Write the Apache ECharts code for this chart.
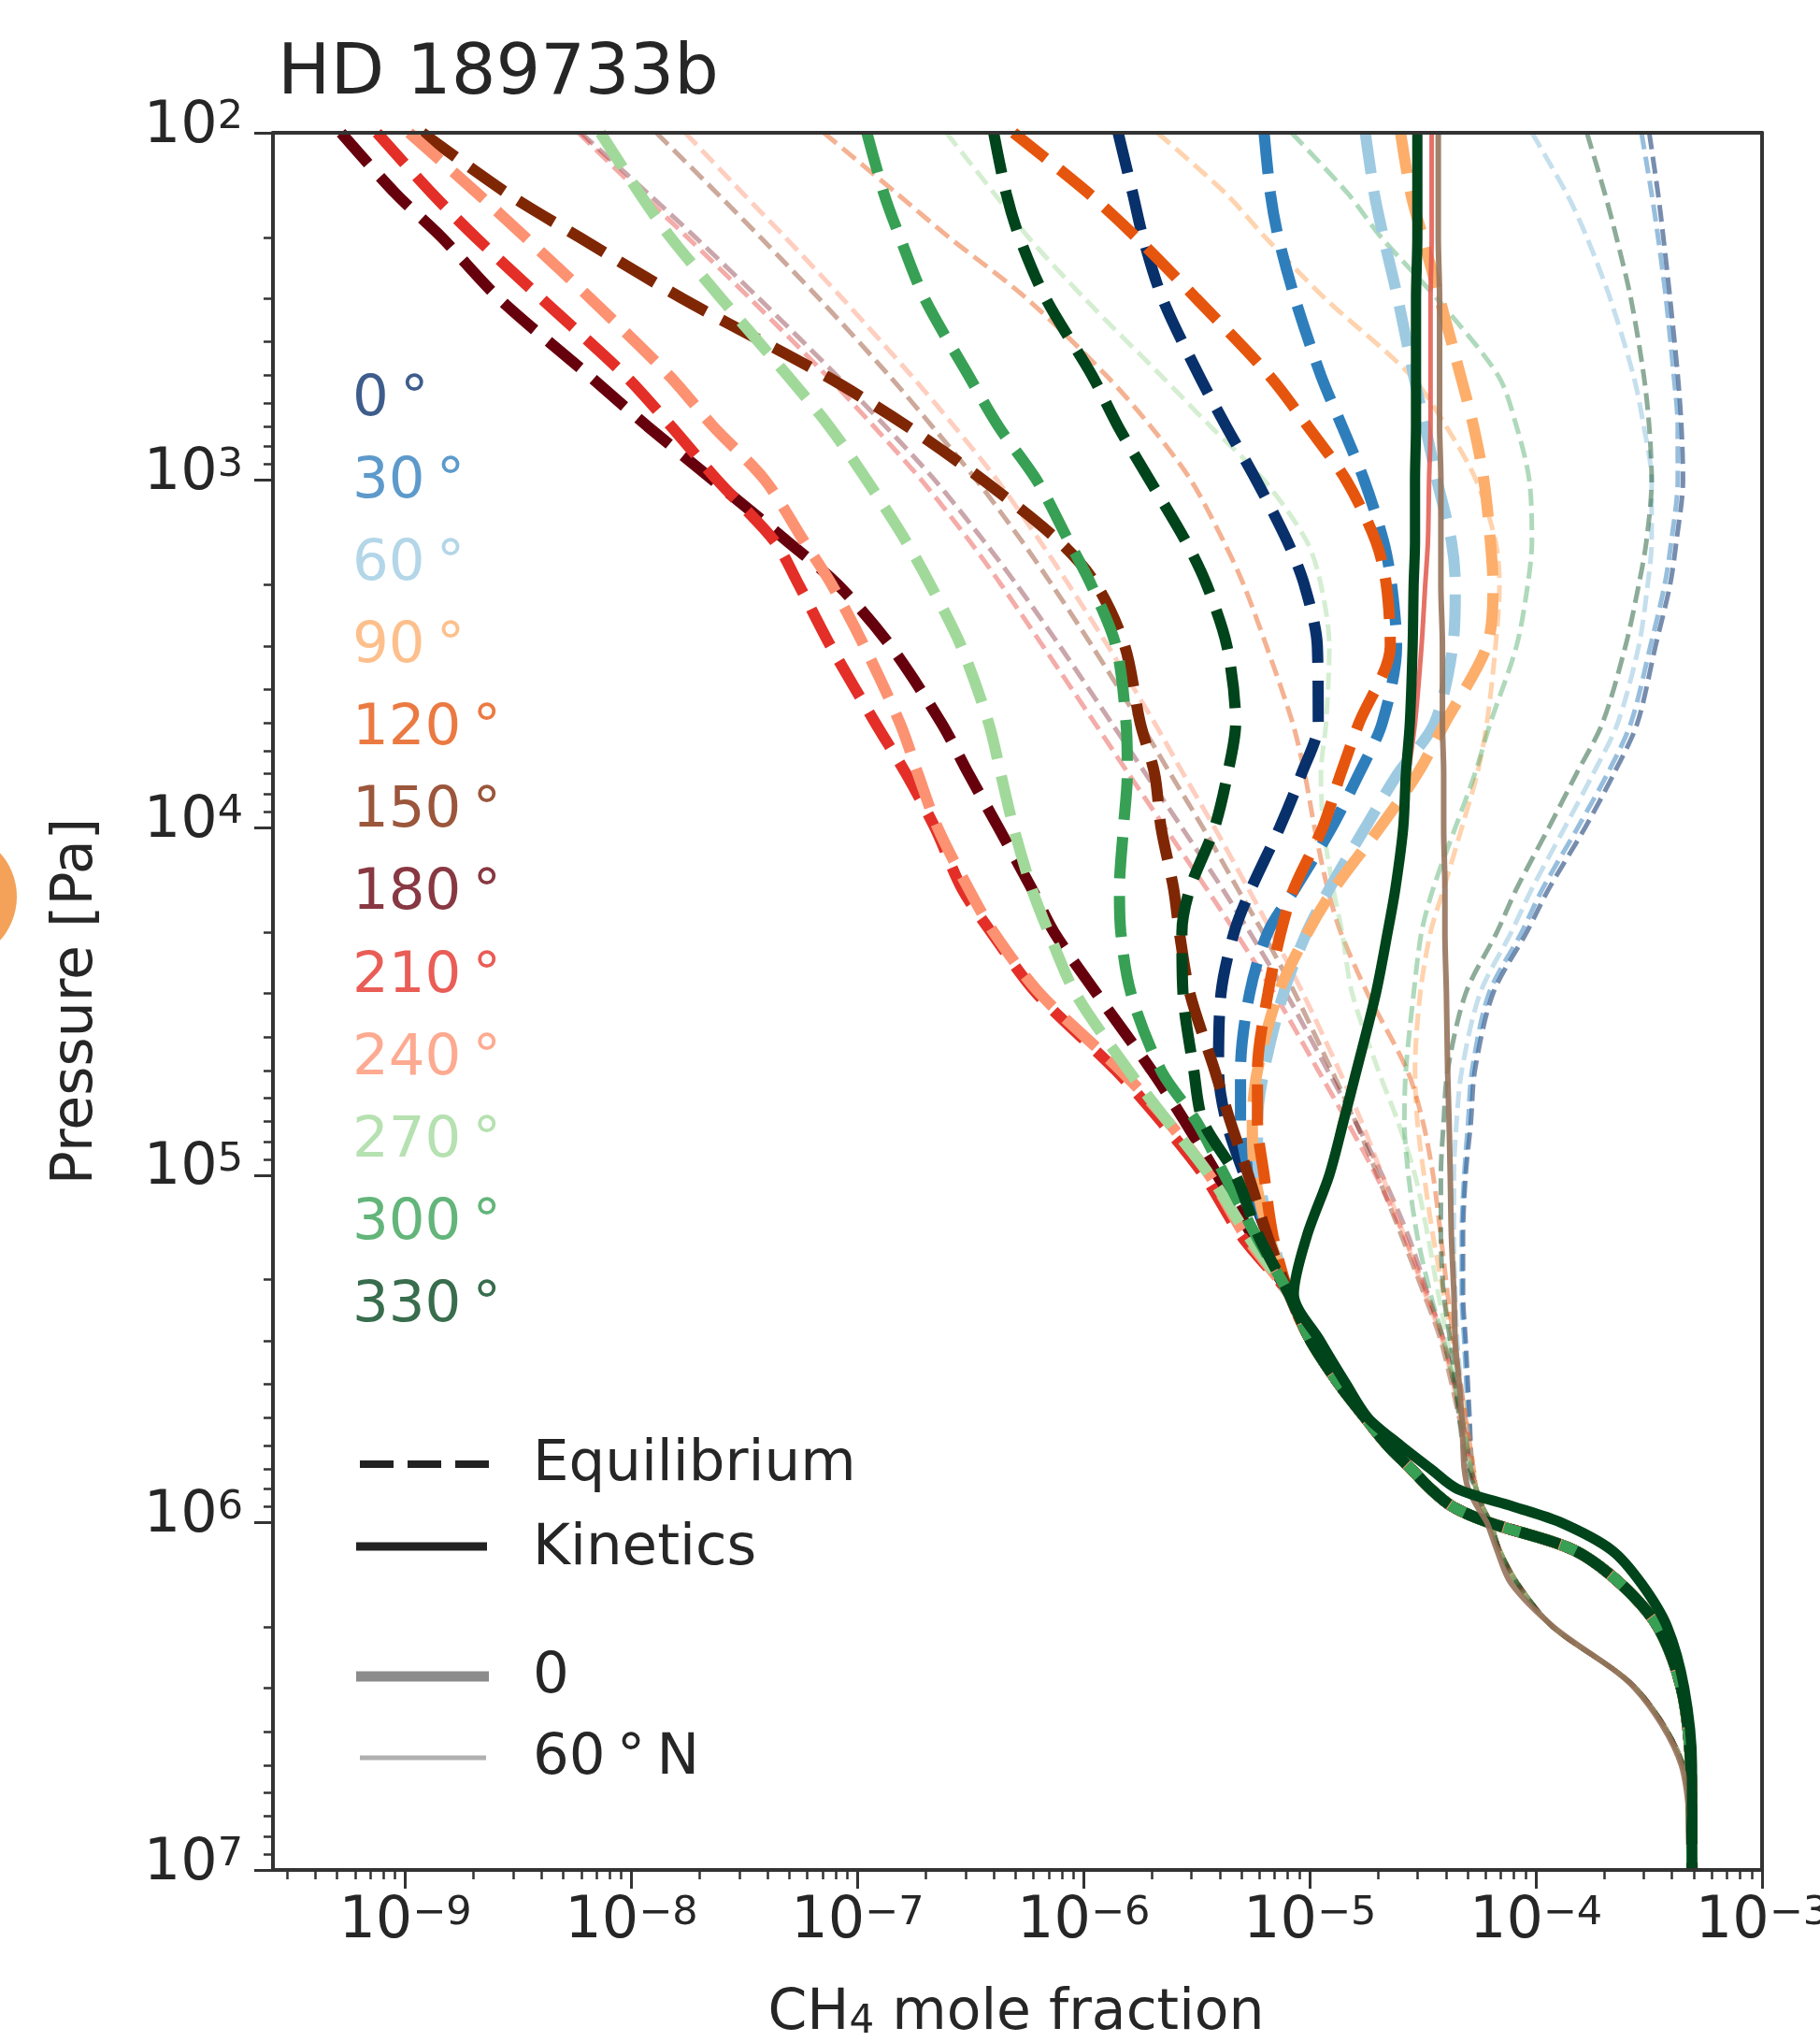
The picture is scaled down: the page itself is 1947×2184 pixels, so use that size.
<!DOCTYPE html>
<html><head><meta charset="utf-8">
<script src="https://cdn.jsdelivr.net/npm/echarts@6/dist/echarts.min.js"></script>
<style>html,body{margin:0;padding:0;background:#fff;}#c{width:1947px;height:2184px;}</style>
</head><body><div id="c"></div>
<script>
// ---------------- data ----------------
const LONGITUDES = ['0°','30°','60°','90°','120°','150°','180°','210°','240°','270°','300°','330°'];
const X_MIN = 2.6e-10, X_MAX = 1e-3;
const Y_MIN = 1e2, Y_MAX = 1e7;
const X_MAJOR = [1e-9, 1e-8, 1e-7, 1e-6, 1e-5, 1e-4, 1e-3];
const Y_MAJOR = [1e2, 1e3, 1e4, 1e5, 1e6, 1e7];

// pressure levels [Pa]
const P_UP = [1e2,1.5e2,2e2,3e2,5e2,7e2,1e3,1.5e3,2e3,3e3,5e3,7e3,1e4,1.5e4,2e4,3e4,5e4,7e4,1e5,1.5e5,2.2e5];
const P_DEEP = [2.2e5,3e5,4e5,5e5,6e5,7e5,8e5,9e5,1e6,1.2e6,1.5e6,2e6,3e6,5e6,1e7];
const P_THIN = [1e2,1.5e2,2e2,3e2,5e2,7e2,1e3,1.5e3,2e3,3e3,5e3,7e3,1e4,1.5e4,2e4,3e4,5e4,7e4,1e5,1.5e5,2.2e5,3e5,5e5,7e5];
const P_THIN_DEEP = [8e5,9e5,1e6,1.2e6,1.5e6,2e6,3e6,5e6,1e7];

// Equilibrium, equator (thick dashed), upper atmosphere, CH4 mole fraction at P_UP
const EQ_EQ_0   = [1.42e-6,1.65e-6,1.83e-6,2.23e-6,3.24e-6,4.27e-6,5.8e-6,7.96e-6,9.46e-6,1.08e-5,1.09e-5,9.2e-6,7.36e-6,5.5e-6,4.63e-6,4.05e-6,3.95e-6,4.27e-6,5.14e-6,6.53e-6,8.1e-6];
const EQ_EQ_30  = [6.28e-6,6.7e-6,7.26e-6,8.6e-6,1.12e-5,1.39e-5,1.74e-5,2.12e-5,2.3e-5,2.42e-5,2.09e-5,1.65e-5,1.25e-5,8.6e-6,6.53e-6,5.42e-6,4.94e-6,4.94e-6,5.42e-6,6.53e-6,8.1e-6];
const EQ_EQ_60  = [1.76e-5,1.93e-5,2.12e-5,2.45e-5,2.88e-5,3.24e-5,3.65e-5,4.23e-5,4.4e-5,4.29e-5,3.56e-5,2.45e-5,1.76e-5,1.22e-5,9.7e-6,7.65e-6,6.28e-6,5.87e-6,5.95e-6,6.79e-6,8.1e-6];
const EQ_EQ_90  = [2.52e-5,2.8e-5,3.16e-5,3.75e-5,4.64e-5,5.3e-5,5.89e-5,6.29e-5,6.46e-5,6.07e-5,3.96e-5,2.99e-5,2.04e-5,1.28e-5,9.8e-6,7.26e-6,5.87e-6,5.57e-6,5.72e-6,6.6e-6,8.1e-6];
const EQ_EQ_120 = [4.9e-7,1.06e-6,1.71e-6,3.15e-6,6.62e-6,9.8e-6,1.45e-5,1.96e-5,2.18e-5,2.27e-5,1.65e-5,1.37e-5,1.14e-5,8.5e-6,7.45e-6,6.53e-6,5.87e-6,5.87e-6,6.28e-6,6.88e-6,8.1e-6];
const EQ_EQ_150 = [1.19e-9,2.85e-9,5.9e-9,1.68e-8,7.2e-8,1.66e-7,3.6e-7,7.8e-7,1.14e-6,1.52e-6,1.78e-6,2.06e-6,2.2e-6,2.5e-6,2.65e-6,2.95e-6,3.8e-6,4.45e-6,5.35e-6,6.5e-6,8.1e-6];
const EQ_EQ_180 = [5.2e-10,9.1e-10,1.45e-9,2.6e-9,6.5e-9,1.18e-8,2.3e-8,4.9e-8,8.2e-8,1.4e-7,2.35e-7,3.1e-7,4.2e-7,5.9e-7,7.4e-7,1.14e-6,2.0e-6,2.8e-6,3.9e-6,5.6e-6,8.1e-6];
const EQ_EQ_210 = [7.5e-10,1.32e-9,2.05e-9,4.0e-9,9.4e-9,1.5e-8,2.4e-8,4.3e-8,5.5e-8,7.6e-8,1.2e-7,1.64e-7,2.2e-7,2.9e-7,3.9e-7,6.2e-7,1.39e-6,2.2e-6,3.4e-6,5.0e-6,8.1e-6];
const EQ_EQ_240 = [1.04e-9,2.1e-9,3.4e-9,6.6e-9,1.47e-8,2.3e-8,3.9e-8,5.8e-8,7.7e-8,1.07e-7,1.54e-7,1.85e-7,2.26e-7,3.1e-7,4.0e-7,6.4e-7,1.46e-6,2.35e-6,3.6e-6,5.2e-6,8.1e-6];
const EQ_EQ_270 = [7.3e-9,1.09e-8,1.49e-8,2.5e-8,4.9e-8,7.5e-8,1.1e-7,1.64e-7,2.1e-7,2.87e-7,3.8e-7,4.3e-7,4.9e-7,5.9e-7,7.0e-7,9.2e-7,1.58e-6,2.35e-6,3.6e-6,5.35e-6,8.1e-6];
const EQ_EQ_300 = [1.1e-7,1.31e-7,1.54e-7,1.98e-7,3.1e-7,4.2e-7,6.2e-7,8.6e-7,1.08e-6,1.39e-6,1.54e-6,1.56e-6,1.5e-6,1.44e-6,1.46e-6,1.62e-6,2.2e-6,3.15e-6,4.2e-6,5.8e-6,8.1e-6];
const EQ_EQ_330 = [4.0e-7,4.55e-7,5.2e-7,6.8e-7,1.09e-6,1.42e-6,1.96e-6,2.83e-6,3.5e-6,4.3e-6,4.7e-6,4.33e-6,3.79e-6,2.95e-6,2.72e-6,2.75e-6,3.07e-6,3.37e-6,4.7e-6,5.95e-6,8.1e-6];
// Equilibrium, equator: common deep profile at P_DEEP
const EQ_EQ_DEEP = [8.1e-6,1.01e-5,1.35e-5,1.76e-5,2.21e-5,2.8e-5,3.42e-5,4.28e-5,6.2e-5,1.47e-4,2.37e-4,3.47e-4,4.4e-4,4.84e-4,4.9e-4];

// Equilibrium, 60°N (thin dashed) at P_THIN
const EQ_N60_0   = [3.17e-4,3.47e-4,3.66e-4,3.92e-4,4.24e-4,4.4e-4,4.47e-4,4.18e-4,3.92e-4,3.38e-4,2.81e-4,2.21e-4,1.65e-4,1.14e-4,9.1e-5,6.46e-5,5.37e-5,5.16e-5,4.89e-5,4.76e-5,4.76e-5,4.89e-5,5.09e-5,5.22e-5];
const EQ_N60_30  = [2.93e-4,3.25e-4,3.47e-4,3.76e-4,4.07e-4,4.24e-4,4.24e-4,3.97e-4,3.71e-4,3.21e-4,2.63e-4,2.07e-4,1.53e-4,1.07e-4,8.65e-5,6.2e-5,5.22e-5,5.02e-5,4.82e-5,4.7e-5,4.7e-5,4.82e-5,5.02e-5,5.22e-5];
const EQ_N60_60  = [9.6e-5,1.37e-4,1.68e-4,2.13e-4,2.7e-4,3.0e-4,3.25e-4,3.25e-4,3.12e-4,2.85e-4,2.3e-4,1.79e-4,1.34e-4,9.6e-5,7.78e-5,5.66e-5,4.7e-5,4.46e-5,4.34e-5,4.34e-5,4.4e-5,4.49e-5,4.82e-5,5.09e-5];
const EQ_N60_90  = [2.12e-6,4.27e-6,6.36e-6,1.17e-5,2.8e-5,4.01e-5,5.44e-5,6.63e-5,6.9e-5,6.63e-5,6.07e-5,5.5e-5,4.7e-5,3.91e-5,3.42e-5,3.08e-5,2.92e-5,2.99e-5,3.2e-5,3.51e-5,3.91e-5,4.28e-5,4.89e-5,5.3e-5];
const EQ_N60_120 = [7.1e-8,1.5e-7,2.54e-7,5.6e-7,1.26e-6,1.98e-6,2.98e-6,4.16e-6,5.1e-6,6.43e-6,8.4e-6,9.5e-6,1.05e-5,1.2e-5,1.37e-5,1.8e-5,2.7e-5,3.16e-5,3.51e-5,3.8e-5,4.07e-5,4.34e-5,4.89e-5,5.3e-5];
const EQ_N60_150 = [1.29e-8,2.41e-8,3.72e-8,6.76e-8,1.38e-7,2.14e-7,3.36e-7,5.34e-7,7.24e-7,1.09e-6,1.78e-6,2.42e-6,3.37e-6,4.8e-6,6.19e-6,8.6e-6,1.25e-5,1.59e-5,1.99e-5,2.55e-5,3.2e-5,3.8e-5,4.58e-5,5.09e-5];
const EQ_N60_180 = [5.98e-9,1.19e-8,1.92e-8,3.67e-8,8.1e-8,1.33e-7,2.2e-7,3.63e-7,5.06e-7,7.84e-7,1.33e-6,1.88e-6,2.72e-6,4.11e-6,5.42e-6,7.86e-6,1.2e-5,1.59e-5,2.09e-5,2.73e-5,3.33e-5,3.91e-5,4.7e-5,5.16e-5];
const EQ_N60_210 = [5.83e-9,1.11e-8,1.77e-8,3.35e-8,7.3e-8,1.18e-7,1.92e-7,3.14e-7,4.32e-7,6.6e-7,1.12e-6,1.58e-6,2.29e-6,3.5e-6,4.69e-6,6.97e-6,1.09e-5,1.46e-5,1.96e-5,2.62e-5,3.29e-5,3.91e-5,4.7e-5,5.16e-5];
const EQ_N60_240 = [1.73e-8,3.13e-8,4.79e-8,8.58e-8,1.73e-7,2.68e-7,4.15e-7,6.42e-7,8.6e-7,1.28e-6,2.06e-6,2.76e-6,3.79e-6,5.35e-6,6.79e-6,9.33e-6,1.35e-5,1.69e-5,2.09e-5,2.62e-5,3.24e-5,3.86e-5,4.64e-5,5.16e-5];
const EQ_N60_270 = [2.47e-7,4.04e-7,5.7e-7,1.01e-6,2.2e-6,3.64e-6,6.28e-6,9.7e-6,1.12e-5,1.22e-5,1.18e-5,1.12e-5,1.15e-5,1.27e-5,1.39e-5,1.54e-5,2.01e-5,2.45e-5,2.92e-5,3.33e-5,3.7e-5,4.07e-5,4.7e-5,5.16e-5];
const EQ_N60_300 = [8.3e-6,1.48e-5,2.07e-5,3.65e-5,6.81e-5,8.21e-5,9.35e-5,9.6e-5,9.2e-5,8.21e-5,6.29e-5,5.37e-5,4.4e-5,3.51e-5,3.12e-5,2.88e-5,2.66e-5,2.62e-5,2.73e-5,2.99e-5,3.42e-5,3.91e-5,4.7e-5,5.16e-5];
const EQ_N60_330 = [1.68e-4,2.02e-4,2.27e-4,2.63e-4,3.0e-4,3.17e-4,3.25e-4,3.08e-4,2.85e-4,2.49e-4,1.97e-4,1.51e-4,1.14e-4,8.21e-5,6.72e-5,4.89e-5,4.07e-5,3.91e-5,3.8e-5,3.8e-5,3.91e-5,4.18e-5,4.58e-5,4.95e-5];
// Equilibrium, 60°N: common deep profile at P_THIN_DEEP
const EQ_N60_DEEP = [5.44e-5,5.8e-5,6.29e-5,6.9e-5,8.3e-5,1.19e-4,2.77e-4,4.47e-4,4.9e-4];

// Kinetics
const KIN_EQ_UP = [2.99e-5,2.99e-5,2.99e-5,2.95e-5,2.95e-5,2.95e-5,2.92e-5,2.92e-5,2.88e-5,2.85e-5,2.77e-5,2.66e-5,2.59e-5,2.39e-5,2.21e-5,1.96e-5,1.61e-5,1.41e-5,1.22e-5,9.7e-6,8.5e-6];
const KIN_EQ_DEEP = [8.6e-6,1.11e-5,1.45e-5,1.81e-5,2.52e-5,3.42e-5,4.49e-5,7.97e-5,1.29e-4,2.16e-4,2.93e-4,3.81e-4,4.53e-4,4.9e-4,4.9e-4];
const KIN_EQ_210_UP = [3.46e-5,3.46e-5,3.46e-5,3.42e-5,3.42e-5,3.42e-5,3.37e-5,3.33e-5,3.24e-5,3.12e-5,2.92e-5,2.73e-5,2.62e-5,2.42e-5,2.24e-5,1.99e-5,1.63e-5,1.37e-5,1.23e-5,9.8e-6,8.6e-6];
const KIN_N60_UP = [3.7e-5,3.7e-5,3.7e-5,3.75e-5,3.75e-5,3.75e-5,3.8e-5,3.8e-5,3.8e-5,3.86e-5,3.86e-5,3.91e-5,3.91e-5,3.96e-5,3.96e-5,4.02e-5,4.07e-5,4.13e-5,4.18e-5,4.23e-5,4.34e-5];
const KIN_N60_DEEP = [4.34e-5,4.4e-5,4.58e-5,4.7e-5,4.76e-5,4.82e-5,5.02e-5,5.5e-5,6.07e-5,6.72e-5,7.78e-5,1.2e-4,2.74e-4,4.4e-4,4.9e-4];

// ---------------- styles ----------------
const COLORS = ['#08306b','#2f7ebc','#9ecae1','#fdae6b','#e6550d','#7f2704','#67000d','#e32f27','#fc9272','#a1d99b','#37a055','#00441b'];
const THIN_OPACITY = [0.55,0.5,0.6,0.55,0.45,0.4,0.35,0.4,0.45,0.45,0.4,0.45];
const FONT = 'DejaVu Sans';
const TXT = '#262626';

const eqEquator = [EQ_EQ_0,EQ_EQ_30,EQ_EQ_60,EQ_EQ_90,EQ_EQ_120,EQ_EQ_150,EQ_EQ_180,EQ_EQ_210,EQ_EQ_240,EQ_EQ_270,EQ_EQ_300,EQ_EQ_330];
const eqN60 = [EQ_N60_0,EQ_N60_30,EQ_N60_60,EQ_N60_90,EQ_N60_120,EQ_N60_150,EQ_N60_180,EQ_N60_210,EQ_N60_240,EQ_N60_270,EQ_N60_300,EQ_N60_330];

function pairs(xs, ps) { return xs.map((x, i) => [x, ps[i]]); }

const series = [];
eqN60.forEach((xs, i) => {
  series.push({
    name: LONGITUDES[i] + ' 60°N eq', type: 'line', smooth: 0.3, symbol: 'none', showSymbol: false, silent: true,
    data: pairs(xs, P_THIN).concat(pairs(EQ_N60_DEEP, P_THIN_DEEP)),
    lineStyle: { color: COLORS[i], width: 5, type: [18, 8], cap: 'butt', opacity: THIN_OPACITY[i] }, z: 2
  });
});
eqEquator.forEach((xs, i) => {
  series.push({
    name: LONGITUDES[i] + ' eq', type: 'line', smooth: 0.3, symbol: 'none', showSymbol: false, silent: true,
    data: pairs(xs, P_UP).concat(pairs(EQ_EQ_DEEP.slice(1), P_DEEP.slice(1))),
    lineStyle: { color: COLORS[i], width: 12, type: [44, 19], cap: 'butt' }, z: 3
  });
});
series.push({
  name: 'kin 60N', type: 'line', smooth: 0.3, symbol: 'none', showSymbol: false, silent: true,
  data: pairs(KIN_N60_UP, P_UP).concat(pairs(KIN_N60_DEEP.slice(1), P_DEEP.slice(1))),
  lineStyle: { color: '#96735b', width: 6, opacity: 0.9 }, z: 4
});
series.push({
  name: 'kin 210', type: 'line', smooth: 0.3, symbol: 'none', showSymbol: false, silent: true,
  data: pairs(KIN_EQ_210_UP, P_UP).concat(pairs(KIN_EQ_DEEP.slice(1), P_DEEP.slice(1))),
  lineStyle: { color: '#e0584c', width: 5, opacity: 0.85 }, z: 4
});
series.push({
  name: 'kin equator', type: 'line', smooth: 0.3, symbol: 'none', showSymbol: false, silent: true,
  data: pairs(KIN_EQ_UP, P_UP).concat(pairs(KIN_EQ_DEEP.slice(1), P_DEEP.slice(1))),
  lineStyle: { color: '#00441b', width: 11 }, z: 5
});

// minor ticks at 2..9 x 10^n
const X_MINOR = [], Y_MINOR = [];
for (let e = -10; e <= -4; e++) for (let k = 2; k <= 9; k++) { const v = k * Math.pow(10, e); if (v > X_MIN && v < X_MAX) X_MINOR.push(v); }
for (let e = 2; e <= 6; e++) for (let k = 2; k <= 9; k++) Y_MINOR.push(k * Math.pow(10, e));

function supLabel(v) {
  const e = Math.round(Math.log10(v));
  return '{b|10}{s|' + (e < 0 ? '\u2212' + (-e) : e) + '}';
}
const RICH = {
  b: { fontSize: 62, fontFamily: FONT, color: TXT, lineHeight: 62, verticalAlign: 'bottom' },
  s: { fontSize: 43, fontFamily: FONT, color: TXT, lineHeight: 43, verticalAlign: 'top', padding: [0, 0, 32, 0] }
};
const AX_LINE = { show: true, onZero: false, lineStyle: { color: '#333', width: 4 } };
const TICK_STYLE = { color: '#333', width: 3 };

const xAxes = [
  { type: 'log', min: X_MIN, max: X_MAX, position: 'bottom', z: 6, axisLine: AX_LINE,
    axisTick: { show: true, customValues: X_MAJOR, length: 20, lineStyle: TICK_STYLE },
    axisLabel: { show: true, customValues: X_MAJOR, formatter: supLabel, rich: RICH, margin: 25 },
    splitLine: { show: false }, minorTick: { show: false } },
  { type: 'log', min: X_MIN, max: X_MAX, position: 'bottom', z: 6, axisLine: { show: false },
    axisTick: { show: true, customValues: X_MINOR, length: 10, lineStyle: { color: '#333', width: 2.5 } },
    axisLabel: { show: false }, splitLine: { show: false } },
  { type: 'log', min: X_MIN, max: X_MAX, position: 'top', z: 6, axisLine: AX_LINE,
    axisTick: { show: false }, axisLabel: { show: false }, splitLine: { show: false } }
];
const yAxes = [
  { type: 'log', min: Y_MIN, max: Y_MAX, inverse: true, position: 'left', z: 6, axisLine: AX_LINE,
    axisTick: { show: true, customValues: Y_MAJOR, length: 20, lineStyle: TICK_STYLE },
    axisLabel: { show: true, customValues: Y_MAJOR, formatter: supLabel, rich: RICH, margin: 32, padding: [0, 0, 13, 0] },
    splitLine: { show: false } },
  { type: 'log', min: Y_MIN, max: Y_MAX, inverse: true, position: 'left', z: 6, axisLine: { show: false },
    axisTick: { show: true, customValues: Y_MINOR, length: 10, lineStyle: { color: '#333', width: 2.5 } },
    axisLabel: { show: false }, splitLine: { show: false } },
  { type: 'log', min: Y_MIN, max: Y_MAX, inverse: true, position: 'right', z: 6, axisLine: AX_LINE,
    axisTick: { show: false }, axisLabel: { show: false }, splitLine: { show: false } }
];

// graphic texts & legend
const graphic = [];
graphic.push({ type: 'circle', shape: { cx: -52, cy: 959, r: 70 }, style: { fill: '#f4a259' }, silent: true });
graphic.push({ type: 'text', x: 297, y: 81, style: { text: 'HD 189733b', fontSize: 75, fontFamily: FONT, fill: TXT, align: 'left', verticalAlign: 'middle' }, z: 10 });
graphic.push({ type: 'text', x: 82, y: 1071, rotation: Math.PI / 2, style: { text: 'Pressure [Pa]', fontSize: 60, fontFamily: FONT, fill: TXT, align: 'center', verticalAlign: 'middle' }, z: 10 });
graphic.push({ type: 'text', x: 1087, y: 2124, style: {
  text: '{a|CH}{sub|4}{a| mole fraction}', align: 'center', verticalAlign: 'top',
  rich: { a: { fontSize: 60, fontFamily: FONT, fill: TXT, color: TXT, lineHeight: 60, verticalAlign: 'top' },
          sub: { fontSize: 42, fontFamily: FONT, fill: TXT, color: TXT, lineHeight: 42, verticalAlign: 'bottom', padding: [21, 0, 0, 0] } } }, z: 10 });
LONGITUDES.forEach((lab, i) => {
  graphic.push({ type: 'text', x: 377, y: 428 + i * 88.1, style: { text: lab.replace('°', '\u2009°'), fontSize: 61, fontFamily: FONT, fill: COLORS[i], opacity: 0.78, align: 'left', verticalAlign: 'middle' }, z: 10 });
});
graphic.push({ type: 'line', shape: { x1: 385, y1: 1566, x2: 523, y2: 1566 }, style: { stroke: '#222', lineWidth: 8, lineDash: [36, 15] }, z: 10 });
graphic.push({ type: 'text', x: 570, y: 1567, style: { text: 'Equilibrium', fontSize: 61, fontFamily: FONT, fill: TXT, align: 'left', verticalAlign: 'middle' }, z: 10 });
graphic.push({ type: 'line', shape: { x1: 381, y1: 1654, x2: 521, y2: 1654 }, style: { stroke: '#222', lineWidth: 9 }, z: 10 });
graphic.push({ type: 'text', x: 570, y: 1657, style: { text: 'Kinetics', fontSize: 61, fontFamily: FONT, fill: TXT, align: 'left', verticalAlign: 'middle' }, z: 10 });
graphic.push({ type: 'line', shape: { x1: 381, y1: 1793, x2: 523, y2: 1793 }, style: { stroke: '#8c8c8c', lineWidth: 11 }, z: 10 });
graphic.push({ type: 'text', x: 570, y: 1794, style: { text: '0', fontSize: 61, fontFamily: FONT, fill: TXT, align: 'left', verticalAlign: 'middle' }, z: 10 });
graphic.push({ type: 'line', shape: { x1: 385, y1: 1880, x2: 520, y2: 1880 }, style: { stroke: '#b0b0b0', lineWidth: 5 }, z: 10 });
graphic.push({ type: 'text', x: 570, y: 1881, style: { text: '60\u2009°\u2009N', fontSize: 61, fontFamily: FONT, fill: TXT, align: 'left', verticalAlign: 'middle' }, z: 10 });

const chart = echarts.init(document.getElementById('c'), null, { renderer: 'canvas', width: 1947, height: 2184 });
chart.setOption({
  backgroundColor: '#ffffff',
  animation: false,
  grid: { left: 292, right: 62, top: 142, bottom: 184, containLabel: false, outerBoundsMode: 'none' },
  xAxis: xAxes,
  yAxis: yAxes,
  series: series,
  graphic: graphic
});
</script></body></html>
